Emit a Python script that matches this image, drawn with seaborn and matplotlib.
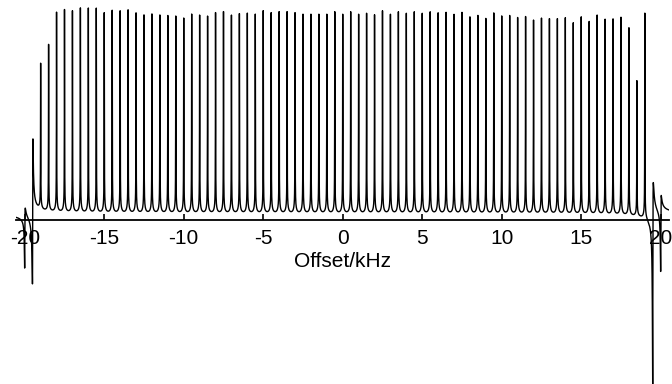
import numpy as np
import pandas as pd
import matplotlib
matplotlib.use("Agg")
import matplotlib.pyplot as plt
import seaborn as sns

# ---- data (offset in kHz, intensity in arbitrary units) ----
peak_offsets = [-19.0, -18.5, -18.0, -17.5, -17.0, -16.5, -16.0, -15.5, -15.0, -14.5,
                -14.0, -13.5, -13.0, -12.5, -12.0, -11.5, -11.0, -10.5, -10.0, -9.5,
                -9.0, -8.5, -8.0, -7.5, -7.0, -6.5, -6.0, -5.5, -5.0, -4.5,
                -4.0, -3.5, -3.0, -2.5, -2.0, -1.5, -1.0, -0.5, 0.0, 0.5,
                1.0, 1.5, 2.0, 2.5, 3.0, 3.5, 4.0, 4.5, 5.0, 5.5,
                6.0, 6.5, 7.0, 7.5, 8.0, 8.5, 9.0, 9.5, 10.0, 10.5,
                11.0, 11.5, 12.0, 12.5, 13.0, 13.5, 14.0, 14.5, 15.0, 15.5,
                16.0, 16.5, 17.0, 17.5, 18.0, 18.5, 19.0]
peak_heights = [145.5, 166.5, 199.5, 202.5, 201.5, 204.5, 204.5, 204.5, 200.0, 202.5,
                202.0, 203.0, 200.0, 198.0, 199.0, 198.0, 197.5, 197.0, 195.0, 199.0,
                198.0, 197.0, 200.5, 201.5, 198.0, 199.5, 200.0, 199.0, 202.5, 200.5,
                201.5, 201.5, 200.5, 199.0, 199.0, 199.0, 199.0, 201.5, 199.0, 201.5,
                199.0, 200.0, 198.5, 202.5, 199.0, 201.5, 200.0, 201.5, 200.0, 201.5,
                200.5, 201.0, 199.0, 201.0, 196.5, 198.0, 195.0, 200.5, 197.5, 198.0,
                196.0, 197.0, 193.5, 195.5, 195.0, 195.0, 196.0, 191.0, 197.0, 192.5,
                199.0, 195.0, 195.5, 197.5, 187.5, 135.5, 206.0]

# phase-distorted lines at the spectral edges
edge_offsets = [-20.0, -19.5, 19.5, 20.0]
edge_absorption = [-40.0, 2.0, -137.5, -49.0]
edge_dispersion = [46.0, 145.0, 150.0, 60.0]

tick_values = [-20, -15, -10, -5, 0, 5, 10, 15, 20]
tick_labels = ["-20", "-15", "-10", "-5", "0", "5", "10", "15", "20"]
x_label = "Offset/kHz"

assert len(peak_offsets) == len(peak_heights)

# ---- build the spectrum trace from the lines ----
freq = np.arange(-4110, 4105) * 0.005
g_core, g_base, base_frac = 0.008, 0.08, 0.04
g_edge = 0.015
signal = np.zeros_like(freq)
for x0, h in zip(peak_offsets, peak_heights):
    d2 = (freq - x0) ** 2
    signal += (1 - base_frac) * h * g_core**2 / (d2 + g_core**2)
    signal += base_frac * h * g_base**2 / (d2 + g_base**2)
for x0, a, b in zip(edge_offsets, edge_absorption, edge_dispersion):
    d = freq - x0
    signal += a * g_edge**2 / (d**2 + g_edge**2)
    signal += b * d * g_edge / (d**2 + g_edge**2)
signal -= 2.5

df = pd.DataFrame({"offset": freq, "intensity": signal})

sns.set_theme(style="white")
plt.rcParams["font.family"] = ["Liberation Sans", "DejaVu Sans"]
plt.rcParams["axes.unicode_minus"] = False

fig = plt.figure(figsize=(6.72, 3.84), dpi=100)
ax = fig.add_axes([16 / 672, 0.0, 653 / 672, 1.0])
ax.set_facecolor("none")
sns.lineplot(data=df, x="offset", y="intensity", ax=ax, color="black",
             linewidth=1.0, estimator=None, sort=False)

ax.set_xlim(-20.55, 20.52)
ax.set_ylim(-172.5, 211.5)
for side in ["top", "left", "right"]:
    ax.spines[side].set_visible(False)
ax.spines["bottom"].set_position(("data", -8.5))
ax.spines["bottom"].set_color("black")
ax.spines["bottom"].set_linewidth(1.3)
ax.set_yticks([])
ax.set_xticks(tick_values)
ax.set_xticklabels(tick_labels)
ax.tick_params(axis="x", direction="in", length=4, width=1.2, color="black",
               labelsize=15, pad=6.5, labelcolor="black", bottom=True)
ax.set_xlabel(x_label, fontsize=15, labelpad=3, color="black")
ax.set_ylabel("")
fig.savefig("out.png", dpi=100)
